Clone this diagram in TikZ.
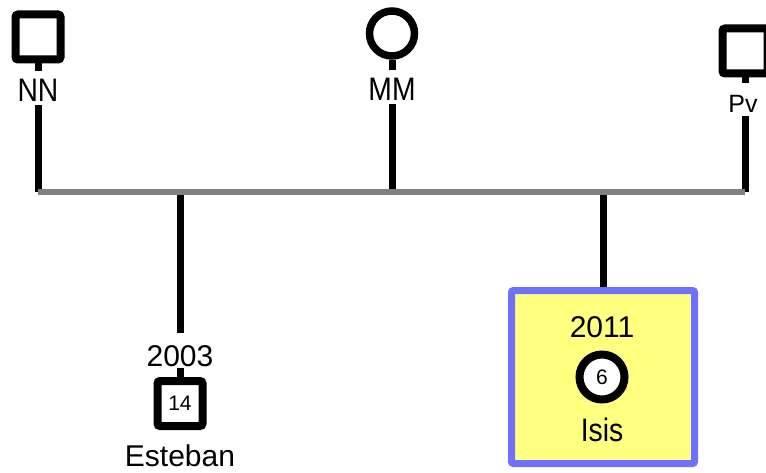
\documentclass[tikz,border=0pt]{standalone}
\usepackage{fontspec}
\setmainfont{Liberation Sans}
\newfontfamily\narrowsans[FakeStretch=0.87]{Liberation Sans}
\definecolor{boxblue}{RGB}{112,112,255}
\definecolor{boxyellow}{RGB}{255,255,128}
\definecolor{linegray}{RGB}{128,128,128}
\begin{document}
\begin{tikzpicture}[x=1pt,y=-1pt,
  male/.style={draw=black, line width=8pt, rectangle, rounded corners=2.5pt, minimum size=45pt, inner sep=0pt, fill=white, font=\fontsize{21}{24}\selectfont},
  female/.style={draw=black, line width=7.5pt, circle, minimum size=45pt, inner sep=0pt, fill=white, font=\fontsize{21}{24}\selectfont},
  lbl/.style={inner sep=0pt, outer sep=4pt, font=\fontsize{30}{36}\selectfont},
  nlbl/.style={inner sep=0pt, outer sep=4pt, font=\narrowsans\fontsize{32.5}{36}\selectfont},
  stem/.style={draw=black, line width=7pt},
  sibline/.style={draw=linegray, line width=6pt},
  hilite/.style={draw=boxblue, fill=boxyellow, line width=7pt, rounded corners=2pt, minimum width=183pt, minimum height=173pt, inner sep=0pt}
]
\useasboundingbox (0,0) rectangle (766,473);

% top generation
\node[male] (nn) at (38,37) {};
\node[nlbl] (nnl) at (38,90) {NN};
\coordinate (j1) at (38,192);
\draw[stem, shorten >=4pt] (nn) -- (nnl);
\draw[stem] (nnl) -- (j1);

\node[female] (mm) at (392,33.5) {};
\node[nlbl] (mml) at (392,89) {MM};
\coordinate (j2) at (392,192);
\draw[stem, shorten >=4pt] (mm) -- (mml);
\draw[stem] (mml) -- (j2);

\node[male] (pv) at (745,51) {};
\node[lbl, font=\fontsize{25}{28}\selectfont] (pvl) at (743,103.5) {Pv};
\coordinate (j3) at (745,192);
\draw[stem, shorten >=8pt] (pv) -- (pv |- pvl.north);
\draw[stem] (pv |- pvl.south) -- (j3);

% children
\coordinate (j4) at (180,192);
\node[lbl] (y03) at (180,356) {2003};
\node[male] (es) at (180,403.5) {14};
\node[lbl] (esl) at (180,456) {Esteban};
\draw[stem, shorten >=8pt] (j4) -- (y03);
\draw[stem, shorten <=-3pt] (y03) -- (es);

\coordinate (j5) at (603,192);
\node[hilite] (ibox) at (603,377) {};
\node[lbl] (y11) at (602,327) {2011};
\node[female, line width=8pt] (is) at (602,377) {6};
\node[nlbl] (isl) at (602,430) {Isis};
\draw[stem] (j5) -- (ibox);

% sibship line
\draw[sibline] (j1) -- (j3);
\end{tikzpicture}
\end{document}
